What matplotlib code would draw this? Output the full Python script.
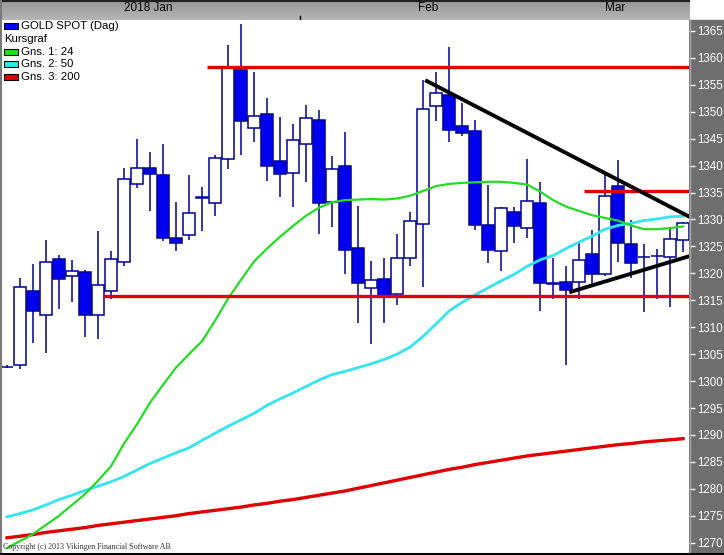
import matplotlib.pyplot as plt
import numpy as np
from matplotlib.patches import Rectangle

# daily candles, Dec 29 2017 .. Mar 2018 (index 0..52)
opens = [1302.6, 1302.9, 1316.7, 1312.2, 1322.6, 1319.5, 1320.2, 1312.2, 1316.7, 1322.2,
         1336.5, 1339.5, 1338.3, 1326.6, 1327.1, 1334.0, 1333.0, 1341.2, 1357.8, 1346.9,
         1349.5, 1340.8, 1338.6, 1344.1, 1348.5, 1333.2, 1339.9, 1324.7, 1317.2, 1319.0,
         1316.1, 1322.8, 1329.2, 1351.0, 1353.2, 1347.4, 1346.4, 1329.0, 1324.1, 1331.4,
         1328.4, 1333.1, 1318.3, 1318.4, 1318.4, 1323.6, 1319.8, 1336.2, 1325.5, 1323.0,
         1323.3, 1323.0, 1326.2]
highs = [1302.9, 1319.1, 1321.7, 1326.2, 1323.5, 1322.4, 1320.6, 1327.9, 1324.2, 1339.6,
         1344.9, 1342.5, 1344.1, 1333.3, 1338.3, 1336.1, 1342.0, 1362.4, 1366.3, 1357.3,
         1352.5, 1349.0, 1347.7, 1351.2, 1350.3, 1341.8, 1346.2, 1332.5, 1322.3, 1322.9,
         1327.3, 1331.3, 1355.9, 1357.4, 1362.0, 1351.6, 1348.5, 1336.4, 1332.3, 1332.3,
         1341.2, 1336.9, 1322.8, 1321.4, 1325.7, 1328.1, 1338.7, 1341.0, 1329.9, 1325.5,
         1324.5, 1328.6, 1329.6]
lows = [1302.4, 1302.3, 1307.0, 1305.3, 1313.4, 1314.6, 1308.2, 1307.9, 1315.3, 1321.4,
        1335.9, 1331.5, 1326.1, 1324.2, 1326.2, 1327.9, 1330.7, 1339.3, 1342.0, 1344.3,
        1337.2, 1334.1, 1332.3, 1337.0, 1327.3, 1328.6, 1319.8, 1310.7, 1306.8, 1310.7,
        1314.1, 1321.4, 1317.5, 1348.2, 1344.4, 1345.5, 1328.1, 1322.0, 1320.5, 1325.6,
        1326.5, 1313.0, 1315.3, 1303.0, 1315.3, 1317.5, 1319.5, 1322.2, 1319.1, 1312.9,
        1315.2, 1313.8, 1324.0]
closes = [1302.7, 1317.4, 1313.0, 1322.2, 1319.0, 1320.4, 1312.3, 1317.8, 1322.6, 1337.6,
          1339.5, 1338.4, 1326.6, 1325.7, 1331.2, 1334.2, 1341.4, 1358.4, 1348.2, 1349.3,
          1340.0, 1338.5, 1344.7, 1348.8, 1333.0, 1339.3, 1324.3, 1318.2, 1318.7, 1315.8,
          1322.8, 1329.7, 1350.6, 1353.4, 1346.7, 1346.0, 1328.9, 1324.4, 1332.1, 1328.7,
          1333.4, 1318.3, 1318.1, 1317.0, 1322.5, 1319.8, 1334.4, 1325.6, 1321.9, 1323.0,
          1323.3, 1326.3, 1329.3]

# moving averages
ma24 = [1269.0, 1270.3, 1271.6, 1273.3, 1275.0, 1277.0, 1279.0, 1281.5, 1284.2, 1288.4,
        1292.0, 1296.0, 1299.3, 1302.5, 1305.0, 1307.4, 1311.2, 1315.3, 1318.8, 1322.2,
        1324.6, 1326.8, 1328.8, 1330.7, 1332.2, 1333.2, 1333.6, 1333.7, 1333.8, 1333.7,
        1333.9, 1334.4, 1335.3, 1336.2, 1336.6, 1336.8, 1336.9, 1337.0, 1337.0, 1336.8,
        1336.5, 1335.2, 1333.6, 1332.4, 1331.6, 1330.8, 1330.3, 1329.8, 1328.9, 1328.2,
        1328.2, 1328.4, 1328.7]
ma50 = [1274.8, 1275.4, 1276.1, 1277.0, 1278.0, 1278.8, 1279.7, 1280.5, 1281.3, 1282.3,
        1283.5, 1284.7, 1285.7, 1286.7, 1287.6, 1289.0, 1290.3, 1291.6, 1292.8, 1294.0,
        1295.5, 1296.7, 1297.8, 1299.0, 1300.2, 1301.2, 1301.8, 1302.5, 1303.2, 1304.0,
        1305.0, 1306.3, 1308.3, 1310.6, 1313.0, 1314.6, 1316.0, 1317.3, 1318.6, 1319.8,
        1321.3, 1322.5, 1323.3, 1324.6, 1325.8, 1326.9, 1328.2, 1328.9, 1329.3, 1329.8,
        1330.1, 1330.5, 1330.6]
ma200 = [1270.9, 1271.2, 1271.5, 1271.9, 1272.2, 1272.5, 1272.8, 1273.2, 1273.5, 1273.8,
         1274.1, 1274.4, 1274.7, 1275.0, 1275.4, 1275.7, 1276.0, 1276.3, 1276.6, 1277.0,
         1277.3, 1277.7, 1278.0, 1278.4, 1278.8, 1279.2, 1279.6, 1280.1, 1280.6, 1281.1,
         1281.6, 1282.1, 1282.6, 1283.1, 1283.6, 1284.0, 1284.5, 1284.9, 1285.3, 1285.7,
         1286.1, 1286.4, 1286.7, 1287.0, 1287.3, 1287.6, 1287.9, 1288.2, 1288.4, 1288.7,
         1288.9, 1289.1, 1289.3]

# drawn support/resistance levels and trend lines
levels = [1358.4, 1315.8, 1335.3]
level_start = [15.4, 7.4, 44.4]
trend_x = [[32.3, 52.5], [43.4, 52.5]]
trend_y = [[1355.7, 1330.5], [1316.6, 1323.2]]

y_ticks = list(range(1270, 1366, 5))
month_labels = ["2018 Jan", "Feb", "Mar"]
month_pos = [10.85, 32.4, 46.8]
month_breaks = [22.5]

legend_labels = ["GOLD SPOT (Dag)", "Kursgraf", "Gns. 1: 24", "Gns. 2: 50", "Gns. 3: 200"]
legend_colors = ["#0000ff", None, "#22dd22", "#33e5f0", "#e00000"]

W, H = 724, 555
fig = plt.figure(figsize=(W / 100, H / 100), dpi=100)
fig.patch.set_facecolor("white")


def fx(px):
    return px / W


def fy(py):
    return 1 - py / H


x0 = -0.385
x1 = 52.46
ax = fig.add_axes([fx(2), fy(553), fx(687), 533 / H])
ax.set_xlim(x0, x1)
ax.set_ylim(1268.08, 1367.04)
ax.set_facecolor("white")
for s in ax.spines.values():
    s.set_visible(False)
ax.set_xticks([])
ax.yaxis.tick_right()
ax.set_yticks(y_ticks)
ax.tick_params(axis="y", colors="white", length=4, width=1, pad=2, labelsize=8.3)
for lab in ax.get_yticklabels():
    lab.set_fontfamily("Liberation Sans")

navy = "#00009a"
idx = np.arange(len(opens))
bw = 0.85
for i in idx:
    o, h, l, c = opens[i], highs[i], lows[i], closes[i]
    ax.vlines(i, l, h, color=navy, lw=1.1, zorder=2)
    face = "#0000f0" if c < o else "white"
    ax.add_patch(Rectangle((i - bw / 2, min(o, c)), bw, abs(c - o),
                           facecolor=face, edgecolor=navy, lw=1.1, zorder=3))

ax.plot(idx, ma200, color="#e00000", lw=2.4, zorder=4)
ax.plot(idx, ma50, color="#33e5f0", lw=2.0, zorder=4)
ax.plot(idx, ma24, color="#22dd22", lw=1.6, zorder=4)

for lv, st in zip(levels, level_start):
    ax.plot([st, x1], [lv, lv], color="#e00000", lw=2.4, zorder=5, solid_capstyle="butt")
for tx, ty in zip(trend_x, trend_y):
    ax.plot(tx, ty, color="black", lw=2.8, zorder=6)

# right value panel
fig.patches.append(Rectangle((fx(689), fy(553)), fx(35), 533 / H,
                             transform=fig.transFigure, color="#6e6e6e", zorder=-1))
fig.lines.append(plt.Line2D([fx(689.5), fx(689.5)], [fy(553), fy(20)],
                            transform=fig.transFigure, color="#a8a8a8", lw=1))

# date header
axh = fig.add_axes([fx(2), fy(20), fx(687), 20 / H])
axh.set_xlim(x0, x1)
axh.set_ylim(0, 1)
grad = np.linspace(0, 1, 50).reshape(-1, 1)
axh.imshow(grad, cmap="Greys", vmin=-4, vmax=6, aspect="auto",
           extent=[x0, x1, 0, 1], origin="lower")
axh.set_axis_off()
for lab, p in zip(month_labels, month_pos):
    axh.text(p, 0.6, lab, ha="center", va="center", fontsize=8.5,
             family="Liberation Sans", color="black")
for b in month_breaks:
    axh.plot([b, b], [0, 0.22], color="black", lw=1)

# borders
fig.lines.append(plt.Line2D([0, fx(689)], [fy(0.5), fy(0.5)], transform=fig.transFigure,
                            color="#202020", lw=1.5))
fig.lines.append(plt.Line2D([fx(1), fx(1)], [fy(553), fy(0)], transform=fig.transFigure,
                            color="#7a7a7a", lw=1.5))
fig.lines.append(plt.Line2D([0, 1], [fy(554), fy(554)], transform=fig.transFigure,
                            color="black", lw=1.5))

# legend
for k, (lab, col) in enumerate(zip(legend_labels, legend_colors)):
    yc = 26 + 12.8 * k
    if col is not None:
        fig.patches.append(Rectangle((fx(4), fy(yc + 3)), fx(14), 6 / H,
                                     transform=fig.transFigure, facecolor=col,
                                     edgecolor="black", lw=0.8))
        fig.text(fx(21), fy(yc), lab, fontsize=8.2, family="Liberation Sans",
                 va="center", ha="left")
    else:
        fig.text(fx(4), fy(yc), lab, fontsize=8.2, family="Liberation Sans",
                 va="center", ha="left")

fig.text(fx(3), fy(547), "Copyright (c) 2013 Vikingen Financial Software AB",
         fontsize=5.8, family="Liberation Serif", color="#333333", va="center", ha="left")

fig.savefig("out.png", dpi=100)
